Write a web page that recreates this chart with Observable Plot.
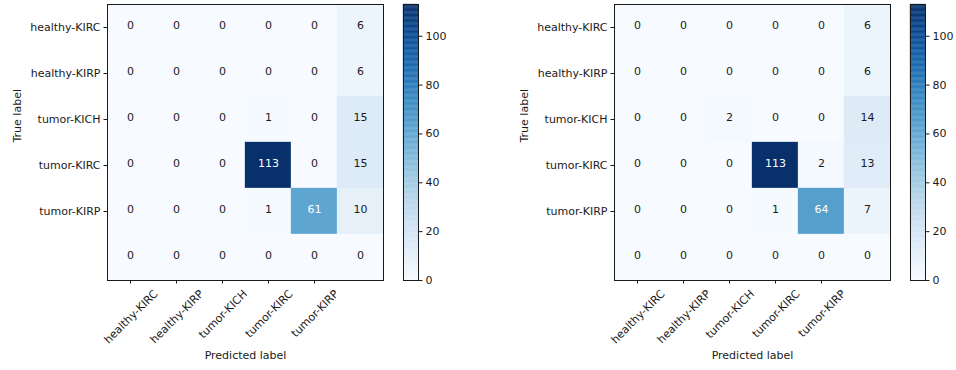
<!DOCTYPE html>
<html>
<head>
<meta charset="utf-8">
<script src="https://cdn.jsdelivr.net/npm/d3@7"></script>
<script src="https://cdn.jsdelivr.net/npm/@observablehq/plot@0.6"></script>
<style>
  html, body { margin: 0; padding: 0; background: #fff; }
  #root { position: relative; width: 956px; height: 370px; font-family: "DejaVu Sans", sans-serif; }
  #root > div { position: absolute; top: 0; }
</style>
</head>
<body>
<div id="root"></div>
<script>
const classLabels = ["healthy-KIRC", "healthy-KIRP", "tumor-KICH", "tumor-KIRC", "tumor-KIRP"];
const matrixA = [
  [0, 0, 0, 0, 0, 6],
  [0, 0, 0, 0, 0, 6],
  [0, 0, 0, 1, 0, 15],
  [0, 0, 0, 113, 0, 15],
  [0, 0, 0, 1, 61, 10],
  [0, 0, 0, 0, 0, 0]
];
const matrixB = [
  [0, 0, 0, 0, 0, 6],
  [0, 0, 0, 0, 0, 6],
  [0, 0, 2, 0, 0, 14],
  [0, 0, 0, 113, 2, 13],
  [0, 0, 0, 1, 64, 7],
  [0, 0, 0, 0, 0, 0]
];
const colorbarTicks = [0, 20, 40, 60, 80, 100];

const FS = 11;
const INK = "#1a1a1a";
const root = document.getElementById("root");
const FONT = {fontFamily: "DejaVu Sans, sans-serif", fontSize: FS + "px", background: "transparent", overflow: "visible"};

const ctx = document.createElement("canvas").getContext("2d");
ctx.font = FS + "px 'DejaVu Sans'";
const textWidth = s => ctx.measureText(s).width;

function place(node, left) {
  const d = document.createElement("div");
  d.style.left = left + "px";
  d.appendChild(node);
  root.appendChild(d);
}

function matrixPlot(matrix) {
  const n = matrix.length;
  const vmax = d3.max(matrix.flat());
  const cells = [];
  matrix.forEach((row, r) => row.forEach((v, c) => cells.push({row: r, col: c, value: v})));
  const idx = d3.range(n);
  const tickIdx = d3.range(classLabels.length);
  const xLabelMarks = tickIdx.map(i => {
    const L = textWidth(classLabels[i]);
    return Plot.text([i], {x: d => d, text: d => classLabels[d], frameAnchor: "bottom",
      rotate: -45, textAnchor: "end", lineAnchor: "middle",
      dx: 0.354 * L + 0.5, dy: 11.5, fontSize: FS, fill: INK});
  });
  return Plot.plot({
    width: 400, height: 370,
    marginLeft: 107, marginRight: 17, marginTop: 4, marginBottom: 90,
    style: FONT,
    x: {type: "band", domain: idx, padding: 0, axis: null},
    y: {type: "band", domain: idx, padding: 0, axis: null},
    color: {type: "linear", scheme: "blues", domain: [0, vmax]},
    marks: [
      Plot.cell(cells, {x: "col", y: "row", fill: "value", inset: 0, stroke: "value", strokeWidth: 0.3}),
      Plot.text(cells, {x: "col", y: "row", text: d => String(d.value), dy: -2,
        fill: d => d.value > vmax / 2 ? "white" : INK, fontSize: FS}),
      Plot.frame({stroke: INK, strokeWidth: 1}),
      Plot.axisY({ticks: tickIdx, tickFormat: i => classLabels[i], tickSize: 3.5, tickPadding: 3.5, label: null, fontSize: FS, color: INK}),
      Plot.axisX({ticks: tickIdx, tickFormat: () => "", tickSize: 3.5, label: null, color: INK}),
      ...xLabelMarks,
      Plot.text(["True label"], {frameAnchor: "left", rotate: -90, dx: -90, fontSize: FS, fill: INK}),
      Plot.text(["Predicted label"], {frameAnchor: "bottom", dy: 78, fontSize: FS, fill: INK})
    ]
  });
}

function colorbarPlot(matrix, width, marginRight) {
  const vmax = d3.max(matrix.flat());
  const step = 0.5;
  const stops = d3.range(0, vmax, step);
  return Plot.plot({
    width, height: 370,
    marginLeft: 3, marginRight, marginTop: 4, marginBottom: 90,
    style: FONT,
    x: {domain: [0, 1], axis: null},
    y: {domain: [0, vmax], axis: null},
    color: {type: "linear", scheme: "blues", domain: [0, vmax]},
    marks: [
      Plot.rect(stops, {x1: 0, x2: 1, y1: d => d, y2: d => Math.min(vmax, d + step), fill: d => d + step / 2, stroke: d => d + step / 2, strokeWidth: 0.3}),
      Plot.frame({stroke: INK, strokeWidth: 1}),
      Plot.axisY({anchor: "right", ticks: colorbarTicks, tickSize: 3.5, tickPadding: 3.5, label: null, fontSize: FS, color: INK})
    ]
  });
}

place(matrixPlot(matrixA), 0);
place(colorbarPlot(matrixA, 78, 60), 400);
place(matrixPlot(matrixB), 507);
place(colorbarPlot(matrixB, 49, 31), 907);
</script>
</body>
</html>
